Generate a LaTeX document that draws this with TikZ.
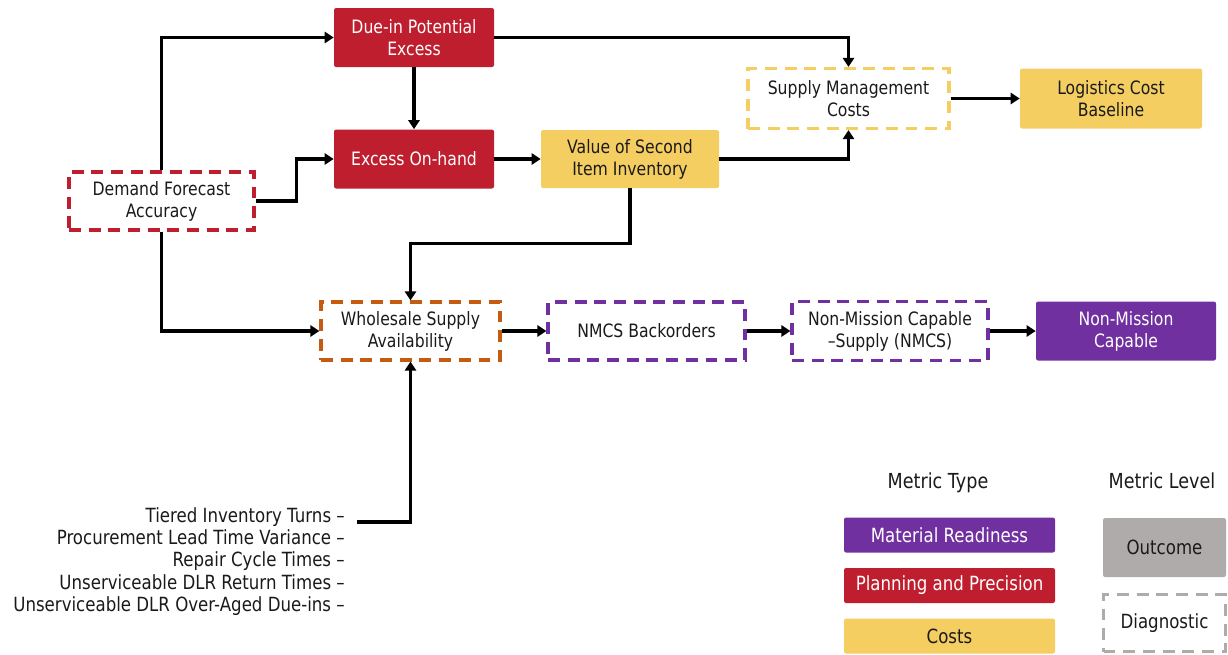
\documentclass[tikz,border=0pt]{standalone}
\usepackage{fontspec}
\setmainfont{DejaVu Sans}[FakeStretch=0.85]
\usetikzlibrary{arrows.meta}
\definecolor{myred}{RGB}{190,30,45}
\definecolor{myyellow}{RGB}{245,206,98}
\definecolor{mypurple}{RGB}{112,48,160}
\definecolor{myorange}{RGB}{197,90,17}
\definecolor{mygray}{RGB}{175,171,171}
\definecolor{mytext}{RGB}{26,26,26}
\newcommand{\px}{0.025cm}
\newcommand{\boxfont}{\fontsize{13.1}{15.6}\selectfont}
\newcommand{\keyfont}{\fontsize{13.9}{15.9}\selectfont}
\newcommand{\titlefont}{\fontsize{14.7}{17}\selectfont}
\newcommand{\widthbox}{180*\px}
\newcommand{\heightbox}{59*\px}
\tikzset{
    common/.style={rectangle, align=center, text=mytext, font=\boxfont, inner sep=0pt,
        minimum width=\widthbox, minimum height=\heightbox},
    outcome/.style={common, fill=#1, rounded corners=1.5pt},
    outcomelight/.style={outcome=#1, text=white},
    diagnostic/.style={common, draw=#1, line width=2.2pt, dash pattern=on 8.5pt off 5.5pt},
    key/.style={outcome=#1, font=\keyfont, minimum width=211*\px, minimum height=35*\px},
    keylight/.style={key=#1, text=white},
    link/.style={line width=2.2pt, -{Triangle[length=6.5pt, width=8pt]}}
}

\begin{document}
\begin{tikzpicture}[x=\px, y=-\px]
    \useasboundingbox (0,0) rectangle (1228,654);

    \node[outcomelight=myred, minimum width=160*\px] (dueIn) at (414,37.5) {Due-in Potential\\Excess};
    \node[outcomelight=myred, minimum width=160*\px] (excess) at (414,159) {Excess On-hand};
    \node[diagnostic=myred, minimum width=185*\px, minimum height=58*\px] (demand) at (161.5,201) {Demand Forecast\\Accuracy};
    \node[outcome=myyellow, minimum width=178*\px, minimum height=58*\px] (value) at (630,159) {Value of Second\\Item Inventory};
    \node[diagnostic=myyellow, minimum width=201*\px, minimum height=60*\px] (supply) at (848.5,98.5) {Supply Management\\Costs};
    \node[outcome=myyellow, minimum width=182*\px, minimum height=60*\px] (logistics) at (1111,98.5) {Logistics Cost\\Baseline};

    \node[diagnostic=myorange, minimum width=179*\px, minimum height=58*\px] (wholesale) at (410.5,331) {Wholesale Supply\\Availability};
    \node[diagnostic=mypurple, minimum width=197*\px, minimum height=58*\px] (backorders) at (646.5,331) {NMCS Backorders};
    \node[diagnostic=mypurple, minimum width=196*\px] (nmcs) at (890,331) {Non-Mission Capable\\--Supply (NMCS)};
    \node[outcomelight=mypurple] (nmc) at (1126,331) {Non-Mission\\Capable};

    \node[anchor=north east, align=right, font=\keyfont, text=mytext, inner sep=0pt] (drivers) at (345,507)
        {Tiered Inventory Turns --\\Procurement Lead Time Variance --\\Repair Cycle Times --\\Unserviceable DLR Return Times --\\Unserviceable DLR Over-Aged Due-ins --};
    \coordinate (driversOut) at (357,522);

    % legend
    \node[font=\titlefont, text=mytext] (typeTitle) at (938,483) {Metric Type};
    \node[keylight=mypurple] (readiness) at (949.5,535) {Material Readiness};
    \node[keylight=myred] (planning) at (949.5,585.5) {Planning and Precision};
    \node[key=myyellow] (costs) at (949.5,636) {Costs};
    \node[font=\titlefont, text=mytext] (levelTitle) at (1162,481) {Metric Level};
    \node[outcome=mygray, font=\keyfont, minimum width=123*\px] (outcomeKey) at (1164.5,547.5) {Outcome};
    \node[diagnostic=mygray, font=\keyfont, minimum width=122*\px, minimum height=57*\px] (diagnosticKey) at (1164.5,623) {Diagnostic};

    \draw[link] (demand.north) |- (dueIn.west);
    \draw[link] (demand.east) -- ++(41,0) |- (excess.west);
    \draw[link] (demand.south) |- (wholesale.west);
    \draw[link] (dueIn) -- (excess);
    \draw[link] (dueIn.east) -| (supply.north);
    \draw[link] (excess) -- (value);
    \draw[link] (value.east) -| (supply.south);
    \draw[link] (value.south) -- ++(0,55) -| (wholesale.north);
    \draw[link] (supply) -- (logistics);
    \draw[link] (wholesale) -- (backorders);
    \draw[link] (backorders) -- (nmcs);
    \draw[link] (nmcs) -- (nmc);
    \draw[link] (driversOut) -| (wholesale.south);
\end{tikzpicture}
\end{document}
